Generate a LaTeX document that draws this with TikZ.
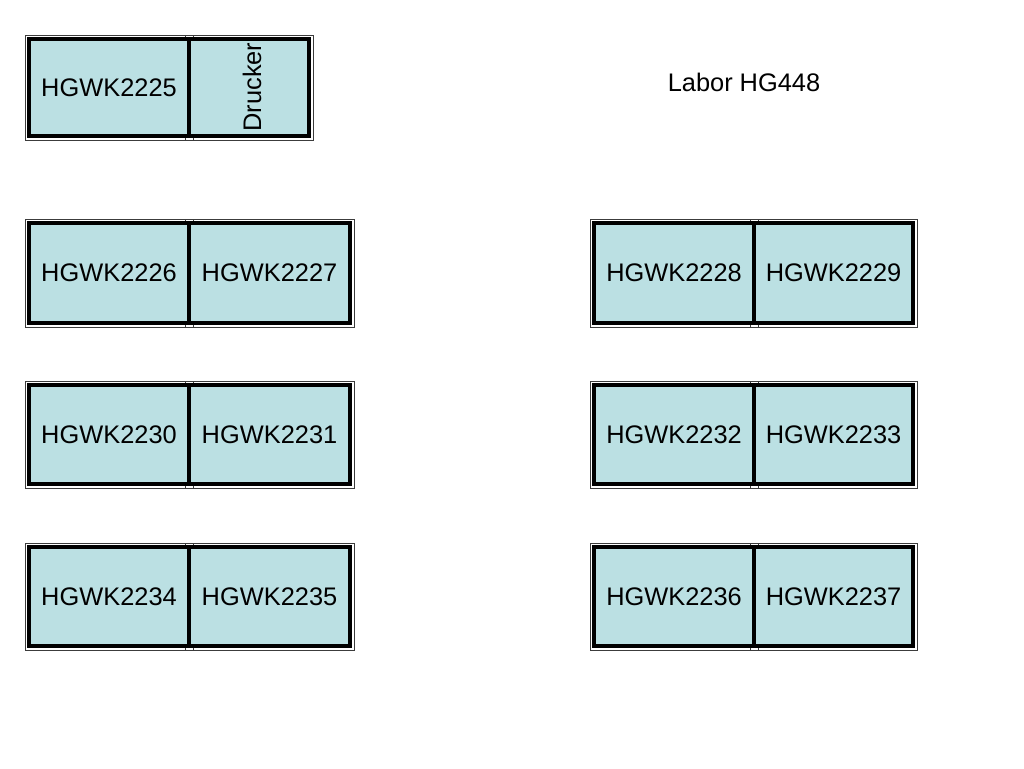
\documentclass[tikz,border=0pt]{standalone}
\usepackage{fontspec}
\setmainfont{Liberation Sans}
\definecolor{deskfill}{RGB}{187,224,227}
\definecolor{thinline}{RGB}{60,60,60}
\pgfdeclarelayer{bottomlayer}
\pgfdeclarelayer{filllayer}
\pgfsetlayers{bottomlayer,filllayer,main}
\newcommand{\mydesk}[6]{% name, x1, y1, x2, y2, text
  \begin{pgfonlayer}{bottomlayer}
    \draw[outerline] (#2-4,#3-4) rectangle (#4+4,#5+4);
  \end{pgfonlayer}
  \begin{pgfonlayer}{filllayer}
    \fill[deskfill] (#2,#3) rectangle (#4,#5);
  \end{pgfonlayer}
  \node[desk, minimum width={#4-#2}, minimum height={#5-#3}] (#1) at ({(#2+#4)/2},{(#3+#5)/2}) {#6};
}
\begin{document}
\begin{tikzpicture}[x=1pt,y=-1pt,
  outerline/.style={draw=thinline, line width=0.9pt},
  desk/.style={draw=black, line width=4pt, inner sep=0pt, font=\fontsize{25.4}{30}\selectfont},
  title/.style={font=\fontsize{25.4}{30}\selectfont, inner sep=0pt}]
\useasboundingbox (0,0) rectangle (1024,768);
% row 1
\mydesk{d2225}{29}{39}{189}{136}{HGWK2225}
\mydesk{druck}{189}{39}{309}{136}{}
\node[title, rotate=90] (drucktxt) at (252,87) {Drucker};
\node[title] (labor) at (744,82) {Labor HG448};
% rows 2-4
\mydesk{d2226}{29}{223}{189}{323}{HGWK2226}
\mydesk{d2227}{189}{223}{350}{323}{HGWK2227}
\mydesk{d2228}{594}{223}{754}{323}{HGWK2228}
\mydesk{d2229}{754}{223}{913}{323}{HGWK2229}
\mydesk{d2230}{29}{385}{189}{484}{HGWK2230}
\mydesk{d2231}{189}{385}{350}{484}{HGWK2231}
\mydesk{d2232}{594}{385}{754}{484}{HGWK2232}
\mydesk{d2233}{754}{385}{913}{484}{HGWK2233}
\mydesk{d2234}{29}{547}{189}{646}{HGWK2234}
\mydesk{d2235}{189}{547}{350}{646}{HGWK2235}
\mydesk{d2236}{594}{547}{754}{646}{HGWK2236}
\mydesk{d2237}{754}{547}{913}{646}{HGWK2237}
\end{tikzpicture}
\end{document}
